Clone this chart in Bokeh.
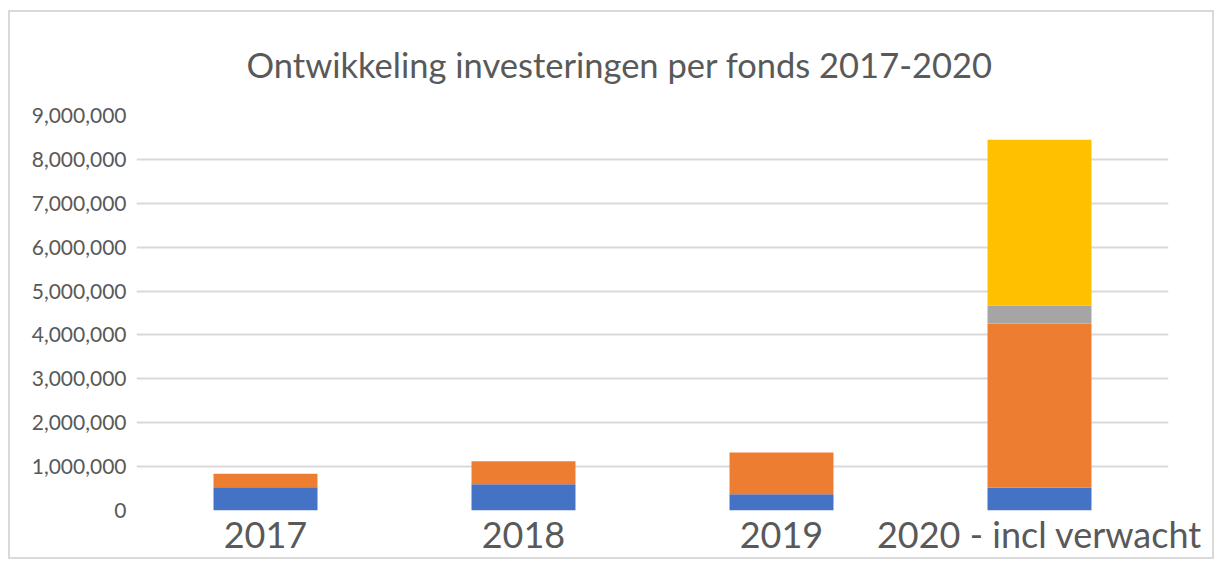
from bokeh.plotting import figure
from bokeh.models import FactorRange, ColumnDataSource, NumeralTickFormatter, FixedTicker, Range1d
from bokeh.embed import file_html
from bokeh.resources import INLINE

title = "Ontwikkeling investeringen per fonds 2017-2020"
years = ["2017", "2018", "2019", "2020 - incl verwacht"]
fonds_1 = [530000, 600000, 370000, 520000]
fonds_2 = [310000, 520000, 950000, 3740000]
fonds_3 = [0, 0, 0, 410000]
fonds_4 = [0, 0, 0, 3780000]
series = ["fonds_1", "fonds_2", "fonds_3", "fonds_4"]
colors = ["#4472C4", "#ED7D31", "#A5A5A5", "#FFC000"]
y_ticks = [i * 1000000 for i in range(10)]

src = ColumnDataSource(dict(years=years, fonds_1=fonds_1, fonds_2=fonds_2,
                            fonds_3=fonds_3, fonds_4=fonds_4))

p = figure(x_range=FactorRange(*years, range_padding=0), y_range=Range1d(0, 9000000),
           width=1206, height=549, output_backend="svg", toolbar_location=None,
           min_border_left=126, min_border_right=48, min_border_top=103, min_border_bottom=51)

p.vbar_stack(series, x="years", width=0.403, color=colors, source=src, line_width=0)

p.title.text = title
p.title.text_font = "Lato"
p.title.text_font_size = "34.5px"
p.title.text_font_style = "normal"
p.title.text_color = "#595959"
p.title.align = "left"
p.title.offset = 110
p.title.vertical_align = "top"
p.title.standoff = 57

p.outline_line_color = None
p.styles = {"border": "2px solid #d9d9d9", "margin-left": "8px", "margin-top": "10px"}

p.xgrid.grid_line_color = None
p.ygrid.grid_line_color = "#d9d9d9"
p.ygrid.grid_line_width = 2
p.yaxis.ticker = FixedTicker(ticks=y_ticks)
p.yaxis.formatter = NumeralTickFormatter(format="0,0")
p.yaxis.axis_line_color = None
p.yaxis.major_tick_line_color = None
p.yaxis.minor_tick_line_color = None
p.yaxis.major_label_text_font = "Lato"
p.yaxis.major_label_text_font_size = "21px"
p.yaxis.major_label_text_color = "#595959"
p.yaxis.major_label_standoff = 4

p.xaxis.axis_line_color = None
p.xaxis.major_tick_line_color = None
p.xaxis.major_label_text_font = "Lato"
p.xaxis.major_label_text_font_size = "36px"
p.xaxis.major_label_text_color = "#595959"
p.xaxis.major_label_standoff = -5

open("out.html", "w").write(file_html(p, INLINE))
